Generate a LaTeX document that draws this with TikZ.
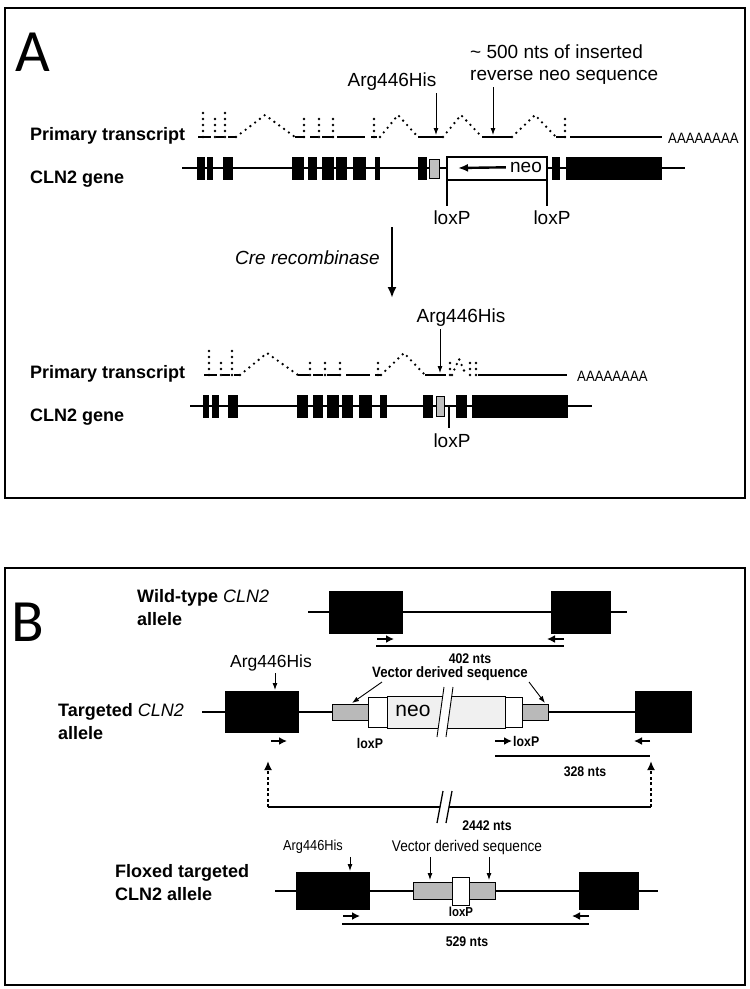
\documentclass[tikz,border=0pt]{standalone}
\usepackage{fontspec}
\setmainfont{Liberation Sans}
\newfontfamily\letterfont{Carlito}
\newfontfamily\condfont[FakeStretch=0.88]{Liberation Sans}
\usetikzlibrary{arrows,arrows.meta,positioning}

\tikzset{
 frame/.style={line width=2.6pt},
 gene/.style={line width=2.6pt},
 tdot/.style={line width=2.6pt, line cap=round, dash pattern=on 0pt off 6pt},
 tseg/.style={line width=2.4pt},
 callout/.style={line width=0.9pt, -{Latex[length=7pt,width=5pt]}},
 primer/.style={line width=2.4pt, -{Latex[length=8pt,width=8pt]}},
 product/.style={line width=2.6pt},
 dotarrow/.style={line width=2.4pt, dash pattern=on 3pt off 2.5pt, -{Latex[length=9pt,width=8pt]}},
 vecbox/.style={draw, line width=0.9pt, fill=gray!55},
 loxbox/.style={draw, line width=0.9pt, fill=white},
 neobox/.style={draw, line width=0.9pt, fill=gray!12},
 rowlabel/.style={font=\fontsize{18}{23}\selectfont\bfseries, align=left},
 note/.style={font=\fontsize{19}{22}\selectfont},
 small/.style={font=\fontsize{14}{16}\selectfont\condfont\bfseries},
 polyA/.style={font=\fontsize{15}{17}\selectfont\condfont},
 panel/.style={font=\fontsize{60}{60}\selectfont\letterfont},
}

\begin{document}
\begin{tikzpicture}[x=1pt,y=-1pt,inner sep=0pt]
\useasboundingbox (0,0) rectangle (750,989);

% ---------------- panel A ----------------
\draw[frame] (5,8) rectangle (745,498);
\node[panel] (pA) at (33,52) {A};

\node[rowlabel,anchor=base west] (ptA) at (30,140) {Primary transcript};
\node[rowlabel,anchor=base west] (geneA) at (30,183) {CLN2 gene};

% primary transcript, before Cre
\draw[tseg] (198,137) -- (211,137) (216,137) -- (224,137) (228,137) -- (236,137);
\draw[tdot] (203,137) -- (203,113);
\draw[tdot] (215,137) -- (215,119);
\draw[tdot] (225,137) -- (225,113);
\draw[tdot] (236,137) -- (265,115) -- (295,137);
\draw[tseg] (295,137) -- (305,137) (310,137) -- (318,137) (322,137) -- (334,137)
            (337,137) -- (365,137) (371,137) -- (377,137);
\draw[tdot] (304,137) -- (304,119);
\draw[tdot] (319,137) -- (319,119);
\draw[tdot] (333,137) -- (333,119);
\draw[tdot] (374,137) -- (374,119);
\draw[tdot] (380,137) -- (398,115) -- (418,137);
\draw[tseg] (418,137) -- (443,137);
\draw[tdot] (443,137) -- (461,115) -- (482,137);
\draw[tseg] (482,137) -- (512,137);
\draw[tdot] (512,137) -- (535,115) -- (556,137);
\draw[tseg] (556,137) -- (566,137);
\draw[tdot] (565,137) -- (565,119);
\draw[tseg] (570,137) -- (662,137);
\node[polyA,anchor=west] (pa1) at (668,138) {AAAAAAAA};

% CLN2 gene with neo
\draw[gene] (182,168) -- (685,168);
\fill (197,157) rectangle (205,180);
\fill (207,157) rectangle (213,180);
\fill (223,157) rectangle (233,180);
\fill (292,157) rectangle (304,180);
\fill (308,157) rectangle (317,180);
\fill (322,157) rectangle (334,180);
\fill (336,157) rectangle (347,180);
\fill (353,157) rectangle (366,180);
\fill (375,157) rectangle (380,180);
\fill (418,157) rectangle (427,180);
\draw[line width=0.9pt, fill=gray!50] (429,159) rectangle (439,178);
\draw[line width=2.2pt, fill=white] (447,157) rectangle (547,180);
\draw[line width=2.2pt] (447,180) -- (447,206) (547,180) -- (547,206);
\fill (552,157) rectangle (560,180);
\fill (566,157) rectangle (662,180);

\node[note] (neoA) at (526,167) {neo};
\coordinate (neotipA) at (458,168);
\draw[line width=2.4pt,-{Latex[length=10pt,width=8pt]},shorten <=4pt] (neoA) -- (neotipA);

\node[note] (loxA1) at (452,218) {loxP};
\node[note] (loxA2) at (552,218) {loxP};

\node[note] (argA) at (392,82) {Arg446His};
\coordinate (argtipA) at (436,135);
\draw[callout] (argtipA |- argA.south) ++(0,2) -- (argtipA);

\node[note,align=left,anchor=north west] (insA) at (470,45)
 {\textasciitilde{} 500 nts of inserted\\reverse neo sequence};
\coordinate (instipA) at (493,135);
\draw[callout] (instipA |- insA.south) ++(0,2) -- (instipA);

% Cre step
\coordinate (creTop) at (392,227);
\coordinate (creBot) at (392,298);
\draw[line width=2.2pt,-{Latex[length=11pt,width=9pt]}] (creTop) -- (creBot);
\node[note,anchor=east] (cre) at (380,258) {\itshape Cre recombinase};

% primary transcript, after Cre
\node[rowlabel,anchor=base west] (ptB) at (30,378) {Primary transcript};
\node[rowlabel,anchor=base west] (geneB) at (30,421) {CLN2 gene};

\draw[tseg] (204,375) -- (217,375) (222,375) -- (230,375) (234,375) -- (240,375);
\draw[tdot] (209,375) -- (209,351);
\draw[tdot] (221,375) -- (221,357);
\draw[tdot] (232,375) -- (232,351);
\draw[tdot] (240,375) -- (267,353) -- (298,375);
\draw[tseg] (298,375) -- (309,375) (313,375) -- (323,375) (327,375) -- (340,375)
            (346,375) -- (370,375) (375,375) -- (381,375);
\draw[tdot] (310,375) -- (310,357);
\draw[tdot] (325,375) -- (325,357);
\draw[tdot] (340,375) -- (340,357);
\draw[tdot] (378,375) -- (378,357);
\draw[tdot] (381,375) -- (404,353) -- (425,375);
\draw[tseg] (425,375) -- (446,375);
\draw[tdot] (450,375) -- (450,357);
\draw[tdot] (452,375) -- (459,359) -- (466,375);
\draw[tdot] (470,375) -- (470,357);
\draw[tdot] (476,375) -- (476,363);
\draw[tseg] (478,375) -- (567,375);
\node[polyA,anchor=west] (pa2) at (577,376) {AAAAAAAA};

\node[note] (argB) at (461,318) {Arg446His};
\coordinate (argtipB) at (440,373);
\draw[callout] (argtipB |- argB.south) ++(0,2) -- (argtipB);

% CLN2 gene after Cre
\draw[gene] (190,406) -- (592,406);
\fill (203,395) rectangle (209,418);
\fill (212,395) rectangle (219,418);
\fill (228,395) rectangle (238,418);
\fill (297,395) rectangle (308,418);
\fill (313,395) rectangle (323,418);
\fill (327,395) rectangle (339,418);
\fill (342,395) rectangle (353,418);
\fill (359,395) rectangle (372,418);
\fill (380,395) rectangle (387,418);
\fill (423,395) rectangle (433,418);
\draw[line width=0.9pt, fill=gray!50] (436,396) rectangle (444,416);
\draw[line width=2.2pt] (449,406) -- (449,428);
\fill (456,395) rectangle (467,418);
\fill (472,395) rectangle (568,418);
\node[note] (loxB) at (452,441) {loxP};

% ---------------- panel B ----------------
\draw[frame] (5,568) rectangle (745,985);
\node[panel] (pB) at (28,622) {B};

% wild-type allele
\node[rowlabel,anchor=north west] (wtlab) at (137,589) {Wild-type {\mdseries\itshape CLN2}\\allele};
\draw[gene] (308,612) -- (627,612);
\fill (329,591) rectangle (403,634);
\fill (551,591) rectangle (611,634);
\coordinate (wtF1) at (377,639);
\coordinate (wtF2) at (394,639);
\coordinate (wtR1) at (564,639);
\coordinate (wtR2) at (547,639);
\draw[primer] (wtF1) -- (wtF2);
\draw[primer] (wtR1) -- (wtR2);
\coordinate (wtP1) at (376,646);
\coordinate (wtP2) at (564,646);
\draw[product] (wtP1) -- (wtP2);
\node[small] (wt402) at (470,659) {402 nts};

% targeted allele
\node[rowlabel,anchor=north west] (tglab) at (58,703) {Targeted {\mdseries\itshape CLN2}\\allele};
\draw[gene] (202,712) -- (692,712);
\fill (225,691) rectangle (299,733);
\fill (635,691) rectangle (692,733);
\draw[vecbox] (332,704) rectangle (368,720);
\draw[loxbox] (368,697) rectangle (387,727);
\draw[neobox] (387,696) rectangle (446,728);
\draw[neobox] (446,696) rectangle (505,728);
\draw[loxbox] (505,697) rectangle (522,727);
\draw[vecbox] (522,704) rectangle (548,720);
\fill[white] (437,737) -- (444,687) -- (453,687) -- (446,737) -- cycle;
\draw[line width=0.9pt] (437,737) -- (444,687) (446,737) -- (453,687);
\node[font=\fontsize{21}{24}\selectfont] (neoT) at (413,711) {neo};

\node[font=\fontsize{17.5}{20}\selectfont] (argT) at (271,663) {Arg446His};
\coordinate (argtipT) at (275,690);
\draw[callout] (argtipT |- argT.south) ++(0,2) -- (argtipT);

\node[font=\fontsize{15}{18}\selectfont\condfont\bfseries] (vecT) at (450,674) {Vector derived sequence};
\coordinate (vecTs1) at (382,682);
\coordinate (vecTt1) at (352,703);
\coordinate (vecTs2) at (529,682);
\coordinate (vecTt2) at (545,703);
\draw[callout] (vecTs1) -- (vecTt1);
\draw[callout] (vecTs2) -- (vecTt2);

\node[small] (loxT1) at (370,743) {loxP};
\coordinate (tgM1) at (495,741);
\coordinate (tgM2) at (512,741);
\draw[primer] (tgM1) -- (tgM2);
\node[small,anchor=west] (loxT2) at (513,741) {loxP};
\coordinate (tgF1) at (271,741);
\coordinate (tgF2) at (287,741);
\draw[primer] (tgF1) -- (tgF2);
\coordinate (tgR1) at (650,741);
\coordinate (tgR2) at (634,741);
\draw[primer] (tgR1) -- (tgR2);
\coordinate (tgP1) at (495,756);
\coordinate (tgP2) at (650,756);
\draw[product] (tgP1) -- (tgP2);
\node[small] (tg328) at (585,772) {328 nts};

\coordinate (lgL) at (268,807);
\coordinate (lgR) at (651,807);
\coordinate (lgLt) at (268,761);
\coordinate (lgRt) at (651,761);
\draw[product] (lgL) -- (lgR);
\draw[dotarrow] (lgL) -- (lgLt);
\draw[dotarrow] (lgR) -- (lgRt);
\fill[white] (437,823) -- (443,791) -- (452,791) -- (446,823) -- cycle;
\draw[line width=1.3pt] (437,823) -- (443,791) (446,823) -- (452,791);
\node[small] (tg2442) at (487,826) {2442 nts};

% floxed targeted allele
\node[rowlabel,anchor=north west] (fxlab) at (115,864) {Floxed targeted\\CLN2 allele};
\draw[gene] (275,891) -- (658,891);
\fill (296,872) rectangle (370,910);
\fill (579,872) rectangle (639,910);
\draw[vecbox] (413,882) rectangle (495,899);
\draw[loxbox] (452,877) rectangle (469,905);
\node[font=\fontsize{13}{15}\selectfont\condfont\bfseries] (loxF) at (461,912) {loxP};

\node[font=\fontsize{14.5}{17}\selectfont\condfont] (argF) at (313,847) {Arg446His};
\coordinate (argtipF) at (350,871);
\draw[callout] (argtipF |- argF.south) ++(0,3) -- (argtipF);

\node[font=\fontsize{15.5}{18}\selectfont\condfont] (vecF) at (467,847) {Vector derived sequence};
\coordinate (vecFt1) at (430,880);
\coordinate (vecFt2) at (489,880);
\draw[callout] (vecFt1 |- vecF.south) ++(0,3) -- (vecFt1);
\draw[callout] (vecFt2 |- vecF.south) ++(0,3) -- (vecFt2);

\coordinate (fxF1) at (343,916);
\coordinate (fxF2) at (360,916);
\coordinate (fxR1) at (589,916);
\coordinate (fxR2) at (572,916);
\draw[primer] (fxF1) -- (fxF2);
\draw[primer] (fxR1) -- (fxR2);
\coordinate (fxP1) at (342,924);
\coordinate (fxP2) at (589,924);
\draw[product] (fxP1) -- (fxP2);
\node[small] (fx529) at (467,942) {529 nts};

\end{tikzpicture}
\end{document}
